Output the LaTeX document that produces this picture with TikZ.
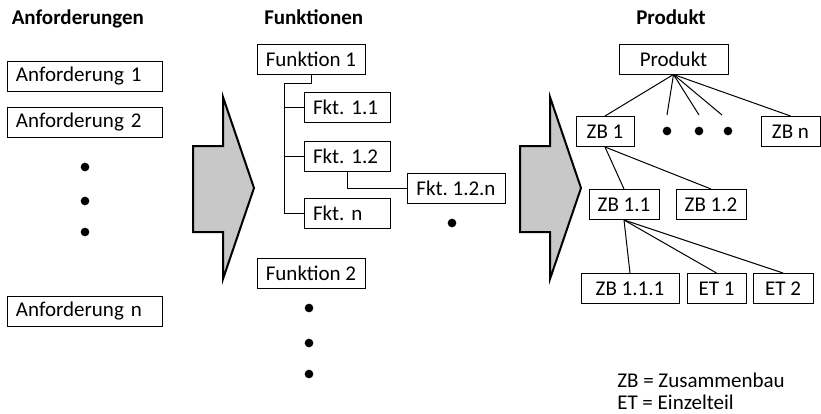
\documentclass[tikz,border=0pt]{standalone}
\usepackage{fontspec}
\setmainfont{Carlito}
\newcommand{\boxfont}{\fontsize{15.75}{18}\selectfont\frenchspacing}
\definecolor{arrowgray}{RGB}{200,200,200}
\tikzset{
  box/.style={draw, line width=0.75pt, minimum height=22.5pt, inner ysep=0pt, inner xsep=4pt, font=\boxfont},
  lbox/.style={box, inner xsep=6.75pt, text width=#1, align=left},
  head/.style={anchor=base west, inner sep=0pt, font=\boxfont\bfseries},
  legend/.style={anchor=base west, inner sep=0pt, font=\boxfont},
  dot/.style={circle, fill, inner sep=0pt, minimum size=6.5pt},
  bigarrow/.style={draw, line width=1.5pt, line join=miter, fill=arrowgray},
  link/.style={draw, line width=0.75pt}
}
\begin{document}
\begin{tikzpicture}[x=0.75pt,y=0.75pt,yscale=-1,xscale=1]
\useasboundingbox (0,0) rectangle (821,414);

% Text Node
\node[head] (hanf) at (11.5,24) {Anforderungen};
\node[head] (hfkt) at (264,24) {Funktionen};
\node[head] (hprod) at (636,24) {Produkt};

%Requirements
\node[lbox=102.75pt] (anf1) at (84.5,76) {Anforderung 1};
\node[lbox=102.75pt] (anf2) at (84.5,122.5) {Anforderung 2};
\node[lbox=102.75pt] (anfn) at (84.5,311.5) {Anforderung n};
\node[dot] (d1) at (85,167) {};
\node[dot] (d2) at (85,201) {};
\node[dot] (d3) at (85,232) {};

%Shape: Arrow
\draw[bigarrow] (193,146) -- (223,146) -- (223,97) -- (254,188) -- (223,279) -- (223,232) -- (193,232) -- cycle;
%Shape: Arrow
\draw[bigarrow] (520,146) -- (550,146) -- (550,97) -- (581,188) -- (550,279) -- (550,232) -- (520,232) -- cycle;

%Functions
\node[box, minimum width=81pt] (f1) at (311,59.5) {Funktion 1};
\node[lbox=51pt] (f11) at (347,107.5) {Fkt. 1.1};
\node[lbox=51pt] (f12) at (347,156) {Fkt. 1.2};
\node[lbox=51pt] (fn) at (347,213.5) {Fkt. n};
\node[box, minimum width=73.5pt] (f12n) at (456,188.5) {Fkt. 1.2.n};
\node[dot] (d4) at (452,223) {};
\node[box, minimum width=81pt] (f2) at (311,273) {Funktion 2};
\node[dot] (d5) at (309,308) {};
\node[dot] (d6) at (309,343) {};
\node[dot] (d7) at (309,374) {};

\coordinate (trunk) at (284,83.5);
\draw[link] (f1.south) |- (trunk) |- (fn.west);
\draw[link] (trunk |- f11.west) -- (f11.west);
\draw[link] (trunk |- f12.west) -- (f12.west);
\draw[link] (f12.south) |- (f12n.west);

%Product
\node[box, minimum width=81.75pt] (prod) at (673.5,59) {Produkt};
\node[box, minimum width=43.5pt] (zb1) at (605,131.5) {ZB 1};
\node[box, minimum width=44.25pt] (zbn) at (790.5,131.5) {ZB n};
\node[dot] (d8) at (667,131) {};
\node[dot] (d9) at (699,131) {};
\node[dot] (d10) at (728,131) {};
\node[box, minimum width=52.5pt] (zb11) at (624,204.5) {ZB 1.1};
\node[box, minimum width=52.5pt] (zb12) at (711,204.5) {ZB 1.2};
\node[box, minimum width=73.5pt] (zb111) at (630,288.5) {ZB 1.1.1};
\node[box, minimum width=44.25pt] (et1) at (716.5,288.5) {ET 1};
\node[box, minimum width=45pt] (et2) at (783,288.5) {ET 2};

\coordinate (e1) at (667,115);
\coordinate (e2) at (699,115);
\coordinate (e3) at (722,115);
\draw[link] (prod.south) -- (zb1.north);
\draw[link] (prod.south) -- (e1);
\draw[link] (prod.south) -- (e2);
\draw[link] (prod.south) -- (e3);
\draw[link] (prod.south) -- (zbn.north);
\draw[link] (zb1.south) -- (zb11.north);
\draw[link] (zb1.south) -- (zb12.north);
\draw[link] (zb11.south) -- (zb111.north);
\draw[link] (zb11.south) -- (et1.north);
\draw[link] (zb11.south) -- (et2.north);

% Text Node
\node[legend] (lzb) at (617,387) {ZB = Zusammenbau};
\node[legend] (let) at (617,409.5) {ET = Einzelteil};

\end{tikzpicture}
\end{document}
